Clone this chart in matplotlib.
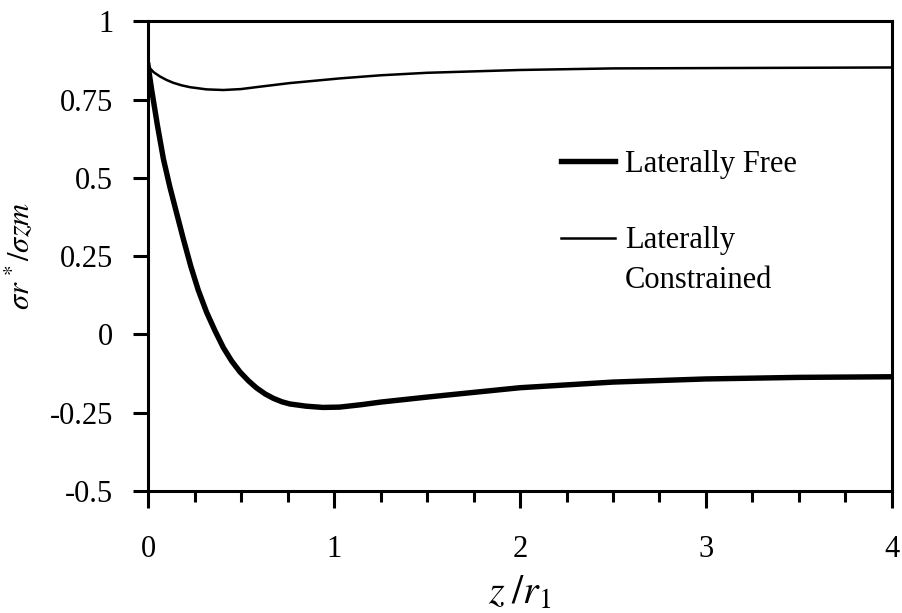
import matplotlib.pyplot as plt
from matplotlib.ticker import MultipleLocator

plt.rcParams['font.family'] = ['Liberation Serif', 'DejaVu Serif']
plt.rcParams['mathtext.fontset'] = 'stix'

# valori
z_free = [0, 0.02, 0.05, 0.083, 0.118, 0.155, 0.19, 0.23, 0.27, 0.315, 0.36, 0.405,
          0.45, 0.495, 0.54, 0.584, 0.63, 0.674, 0.72, 0.763, 0.85, 0.94, 1.03,
          1.15, 1.25, 1.5, 1.75, 2.0, 2.5, 3.0, 3.5, 4.0]
s_free = [0.86, 0.78, 0.67, 0.56, 0.47, 0.385, 0.305, 0.218, 0.142, 0.071, 0.012, -0.042,
          -0.085, -0.12, -0.148, -0.171, -0.19, -0.204, -0.215, -0.222, -0.229, -0.233, -0.232,
          -0.224, -0.216, -0.2, -0.185, -0.17, -0.152, -0.142, -0.137, -0.135]

z_con = [0, 0.03, 0.065, 0.1, 0.136, 0.18, 0.226, 0.315, 0.405, 0.5, 0.58, 0.76, 1.03,
         1.25, 1.5, 2.0, 2.5, 3.0, 3.5, 4.0]
s_con = [0.857, 0.838, 0.824, 0.813, 0.804, 0.796, 0.79, 0.783, 0.781, 0.784, 0.79, 0.803,
         0.818, 0.828, 0.836, 0.845, 0.85, 0.851, 0.852, 0.853]

fig = plt.figure(figsize=(9.02, 6.13), dpi=100)
ax = fig.add_axes([0.1641, 0.199, 0.8248, 0.766])

ax.plot(z_free, s_free, color='black', lw=3.9, solid_joinstyle='round', label='Laterally Free')
ax.plot(z_con, s_con, color='black', lw=1.8, solid_joinstyle='round', label='Laterally')

ax.set_xlim(0, 4)
ax.set_ylim(-0.5, 1)
ax.set_xticks([0, 1, 2, 3, 4])
ax.set_xticklabels(['0', '1', '2', '3', '4'])
ax.xaxis.set_minor_locator(MultipleLocator(0.25))
ax.set_yticks([-0.5, -0.25, 0, 0.25, 0.5, 0.75, 1])
ax.set_yticklabels(['-0.5', '-0.25', '0', '0.25', '0.5', '0.75', '1'])

for sp in ax.spines.values():
    sp.set_linewidth(2.2)
ax.tick_params(axis='x', which='major', direction='out', length=12, width=2.2, pad=20, labelsize=22)
ax.tick_params(axis='x', which='minor', direction='out', length=8, width=2.2)
ax.tick_params(axis='y', which='major', direction='out', length=11, width=2.2, pad=14, labelsize=22)

ax.set_xlabel(r'$z\;/r_{\mathrm{1}}$', fontsize=29, labelpad=8)
ax.set_ylabel(r'$\sigma r\,^*/\sigma zm$', fontsize=22, labelpad=10)

leg = ax.legend(loc='upper left', bbox_to_anchor=(0.555, 0.726), frameon=False,
                fontsize=22, handlelength=1.77, handletextpad=0.33, labelspacing=1.55,
                borderpad=0, borderaxespad=0)
ax.annotate('Constrained', xy=(0, 0), xycoords=leg.get_texts()[1],
            xytext=(0, -40), textcoords='offset pixels', va='bottom', ha='left',
            fontsize=22, zorder=10)

plt.savefig('out.png', dpi=100)
